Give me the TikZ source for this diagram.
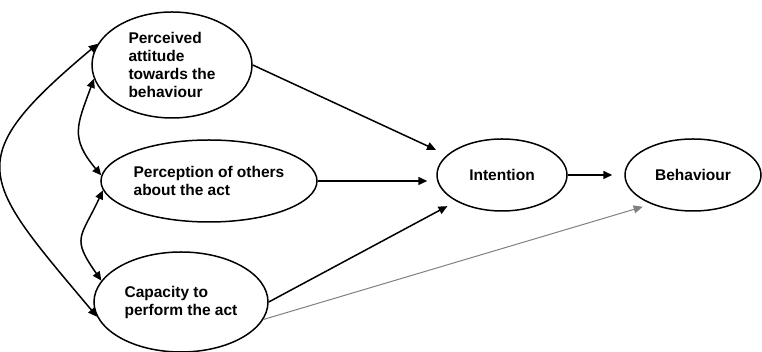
\documentclass[tikz,border=0pt]{standalone}
\usepackage{fontspec}
\setmainfont{Liberation Sans}
\usetikzlibrary{shapes.geometric, positioning, arrows.meta}

\begin{document}
\begin{tikzpicture}[x=1pt, y=1pt, on grid, line width=1.5pt,
    >={Triangle[length=9pt,width=8pt]},
    factor/.style={ellipse, draw, inner sep=0pt, align=left,
        font=\fontsize{15.5}{18}\selectfont\bfseries}]
    \useasboundingbox (0,0) rectangle (762,352);
    \node[factor, minimum width=160pt, minimum height=106pt] (att) at (172,287) {Perceived\\attitude\\towards the\\behaviour};
    \node[factor, minimum width=216pt, minimum height=82pt, below right=116pt and 37pt of att] (oth) {Perception of others\\about the act};
    \node[factor, minimum width=174pt, minimum height=100pt, below left=121pt and 28pt of oth] (cap) {Capacity to\\perform the act};
    \node[factor, minimum width=130pt, minimum height=72pt, above right=6pt and 293pt of oth] (int) {Intention};
    \node[factor, minimum width=136pt, minimum height=72pt, right=191pt of int] (beh) {Behaviour};

    \path[->]
        % into the intention, then on to behaviour
        (att.east) edge[shorten >=12pt] (int.160)
        (oth.east) edge[shorten >=9pt] (oth.east -| int.west)
        (cap.east) edge[shorten >=10pt] (int.210)
        (int.east) edge[shorten >=12pt] (beh.west)
        (cap.-12) edge[gray, line width=1pt, shorten >=9pt] (beh.215);

    \path[<->]
        % the three factors are linked to each other
        (att.190) edge[out=250, in=130, looseness=1.3] (oth.177)
        (oth.185) edge[out=245, in=125, looseness=1.5] (cap.165)
        (att.164) edge[out=220, in=130, looseness=1.7] (cap.190);
\end{tikzpicture}
\end{document}
